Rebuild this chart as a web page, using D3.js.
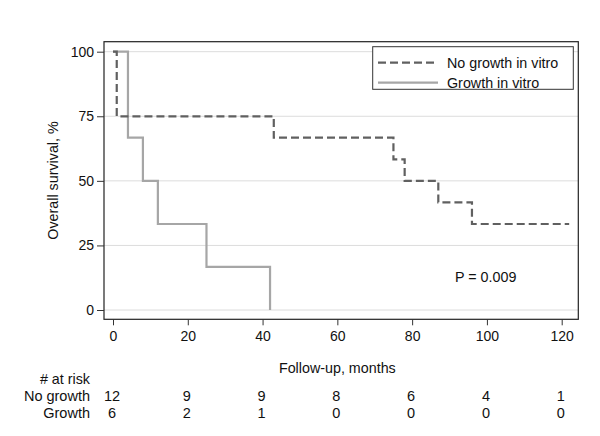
<!DOCTYPE html>
<html>
<head>
<meta charset="utf-8">
<script src="https://cdn.jsdelivr.net/npm/d3@7"></script>
<style>
  html, body { margin: 0; padding: 0; background: #fff; }
  svg { display: block; font-family: Arial, "Liberation Sans", sans-serif; }
</style>
</head>
<body>
<div id="chart"></div>
<script>
// Kaplan-Meier steps
const noGrowthTimes = [0, 1, 43, 75, 78, 87, 96, 122];
const noGrowthSurv = [100, 75, 66.7, 58.3, 50, 41.7, 33.3, 33.3];
const growthTimes = [0, 4, 8, 12, 25, 42];
const growthSurv = [100, 66.7, 50, 33.3, 16.7, 0];

const xTicks = [0, 20, 40, 60, 80, 100, 120];
const yTicks = [0, 25, 50, 75, 100];

const riskGroups = ["No growth", "Growth"];
const riskNoGrowth = [12, 9, 9, 8, 6, 4, 1];
const riskGrowth = [6, 2, 1, 0, 0, 0, 0];

const seriesNames = ["No growth in vitro", "Growth in vitro"];

const width = 600, height = 436;
const frame = { left: 104, right: 578.3, top: 41.7, bottom: 319.3 };

const svg = d3.select("#chart").append("svg")
    .attr("width", width)
    .attr("height", height);

const x = d3.scaleLinear().domain([0, 120]).range([113, 561.7]);
const y = d3.scaleLinear().domain([0, 100]).range([310, 51.7]);

// gridlines
svg.append("g").selectAll("line").data(yTicks).enter().append("line")
    .attr("x1", frame.left).attr("x2", frame.right)
    .attr("y1", d => y(d)).attr("y2", d => y(d))
    .attr("stroke", "#dcdcdc").attr("stroke-width", 1);

// frame
svg.append("rect")
    .attr("x", frame.left).attr("y", frame.top)
    .attr("width", frame.right - frame.left)
    .attr("height", frame.bottom - frame.top)
    .attr("fill", "none").attr("stroke", "#222").attr("stroke-width", 1.2);

// axes
const yAxis = svg.append("g")
    .attr("transform", `translate(${frame.left},0)`)
    .call(d3.axisLeft(y).tickValues(yTicks).tickSize(7).tickPadding(3));
const xAxis = svg.append("g")
    .attr("transform", `translate(0,${frame.bottom})`)
    .call(d3.axisBottom(x).tickValues(xTicks).tickSize(6).tickPadding(6));

[yAxis, xAxis].forEach(g => {
    g.select(".domain").remove();
    g.selectAll(".tick line").attr("stroke", "#333");
    g.selectAll(".tick text")
        .attr("fill", "#111")
        .attr("font-size", "14px")
        .attr("font-family", "Arial, 'Liberation Sans', sans-serif");
});

// survival curves
const line = d3.line().x(d => x(d[0])).y(d => y(d[1])).curve(d3.curveStepAfter);

svg.append("path")
    .datum(growthTimes.map((t, i) => [t, growthSurv[i]]))
    .attr("d", line)
    .attr("fill", "none").attr("stroke", "#a6a6a6").attr("stroke-width", 2.2);

svg.append("path")
    .datum(noGrowthTimes.map((t, i) => [t, noGrowthSurv[i]]))
    .attr("d", line)
    .attr("fill", "none").attr("stroke", "#606060").attr("stroke-width", 2.2)
    .attr("stroke-dasharray", "8,4");

// legend
const legend = svg.append("g");
legend.append("rect")
    .attr("x", 372.7).attr("y", 46.7)
    .attr("width", 200.6).attr("height", 42.6)
    .attr("fill", "#fff").attr("stroke", "#333").attr("stroke-width", 1);

const legendRows = legend.selectAll(".row").data(seriesNames).enter().append("g")
    .attr("transform", (d, i) => `translate(0, ${62.7 + i * 20})`);
legendRows.append("line")
    .attr("x1", 378).attr("x2", 438)
    .attr("stroke", (d, i) => i === 0 ? "#606060" : "#a6a6a6")
    .attr("stroke-width", 2.2)
    .attr("stroke-dasharray", (d, i) => i === 0 ? "8,4" : null);
legendRows.append("text")
    .attr("x", 447).attr("y", 5)
    .attr("font-size", "14.3px").attr("fill", "#111")
    .text(d => d);

// p-value
svg.append("text")
    .attr("x", 455).attr("y", 281.5)
    .attr("font-size", "14.3px").attr("fill", "#111")
    .text("P = 0.009");

// axis titles
svg.append("text")
    .attr("transform", "translate(58,180.5) rotate(-90)")
    .attr("text-anchor", "middle")
    .attr("font-size", "14.3px").attr("fill", "#111")
    .text("Overall survival, %");

svg.append("text")
    .attr("x", x(60)).attr("y", 372.5)
    .attr("text-anchor", "middle")
    .attr("font-size", "14.3px").attr("fill", "#111")
    .text("Follow-up, months");

// number at risk table
svg.append("text")
    .attr("x", 90).attr("y", 383.5)
    .attr("text-anchor", "end")
    .attr("font-size", "14.3px").attr("fill", "#111")
    .text("# at risk");

const riskRows = svg.selectAll(".risk").data([riskNoGrowth, riskGrowth]).enter().append("g")
    .attr("transform", (d, i) => `translate(0, ${400.8 + i * 17})`);
riskRows.append("text")
    .attr("x", 90)
    .attr("text-anchor", "end")
    .attr("font-size", "14.5px").attr("fill", "#111")
    .text((d, i) => riskGroups[i]);
riskRows.selectAll(".n").data(d => d).enter().append("text")
    .attr("x", (d, i) => x(xTicks[i]) - 1)
    .attr("text-anchor", "middle")
    .attr("font-size", "14.5px").attr("fill", "#111")
    .text(d => d);
</script>
</body>
</html>
